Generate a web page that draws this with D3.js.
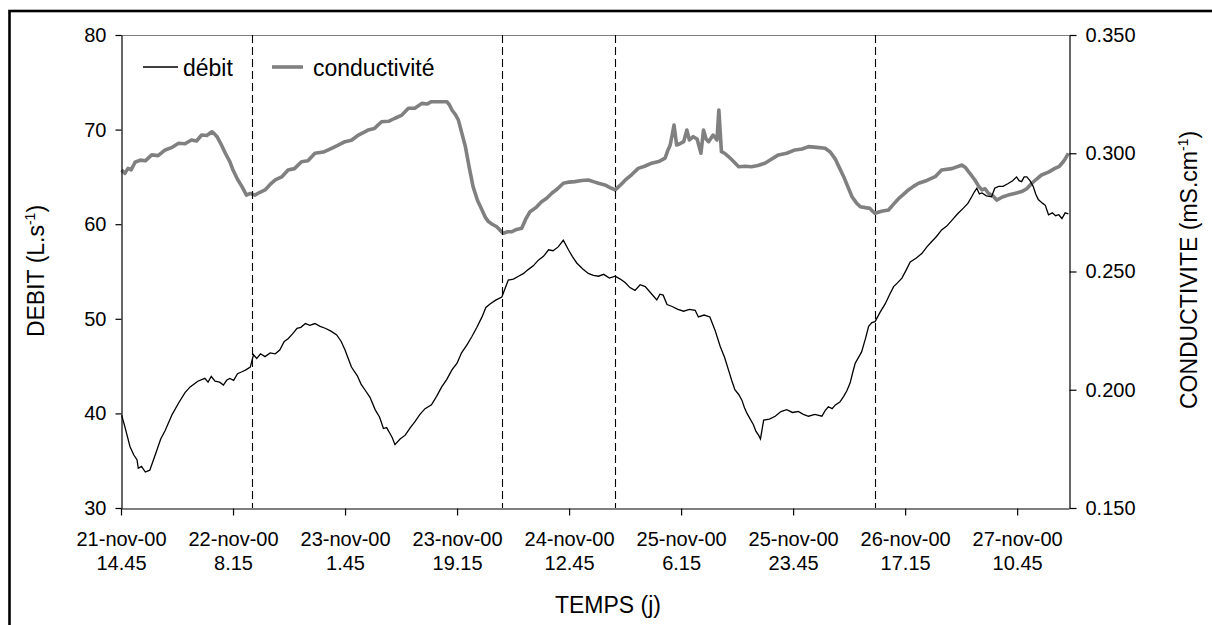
<!DOCTYPE html>
<html>
<head>
<meta charset="utf-8">
<script src="https://cdn.jsdelivr.net/npm/d3@7/dist/d3.min.js"></script>
<style>
  body { margin: 0; background: #fff; }
  svg { font-family: Arial, 'Liberation Sans', sans-serif; }
</style>
</head>
<body>
<div id="chart"></div>
<script>
// [heures depuis le 21-nov-00 14.45, valeur]
const debit = [
  [0.1, 39.8], [0.6, 38.6], [1.4, 36.5], [2.0, 35.6], [2.5, 35.1], [2.7, 34.2], [3.2, 34.4],
  [3.8, 33.8], [4.5, 34.0], [5.6, 36.1], [6.2, 37.3], [6.9, 38.2], [8.0, 39.9], [9.0, 41.1],
  [10.0, 42.2], [10.8, 42.8], [12.0, 43.4], [13.1, 43.7], [13.6, 43.3], [14.1, 43.9], [14.7, 43.4],
  [15.4, 43.3], [16.0, 43.0], [16.5, 43.5], [17.0, 43.7], [17.6, 43.5], [18.2, 44.2], [18.9, 44.4],
  [19.5, 44.6], [20.2, 44.9], [20.7, 46.2], [21.2, 45.8], [21.8, 46.3], [22.5, 46.0], [23.3, 46.4],
  [24.1, 46.3], [24.8, 46.7], [25.5, 47.6], [26.1, 47.9], [26.8, 48.4], [27.5, 49.0], [28.1, 49.1],
  [28.8, 49.5], [29.5, 49.3], [30.3, 49.5], [31.1, 49.2], [31.9, 49.0], [32.8, 48.7], [33.7, 48.3],
  [34.4, 47.6], [35.0, 46.7], [35.5, 45.8], [36.0, 44.9], [36.9, 44.0], [37.5, 43.1], [38.1, 42.5],
  [38.9, 41.7], [39.7, 40.4], [40.4, 39.6], [41.0, 38.4], [41.5, 38.5], [42.0, 37.9], [42.4, 37.4],
  [42.8, 36.7], [43.6, 37.3], [44.4, 37.7], [45.2, 38.5], [45.9, 39.1], [46.7, 39.9], [47.5, 40.5],
  [48.5, 40.9], [49.3, 41.8], [50.1, 42.8], [50.9, 43.6], [51.7, 44.6], [52.5, 45.3], [53.2, 46.4],
  [54.0, 47.2], [54.8, 48.1], [55.6, 49.1], [56.4, 50.2], [57.0, 51.2], [57.7, 51.6], [58.6, 52.0],
  [59.5, 52.3], [60.0, 53.2], [60.5, 54.1], [61.3, 54.2], [62.1, 54.5], [62.9, 54.8], [63.6, 55.2],
  [64.4, 55.6], [65.2, 56.2], [66.0, 56.6], [66.8, 57.3], [67.5, 57.2], [68.3, 57.6], [69.1, 58.3],
  [69.9, 57.3], [70.5, 56.6], [71.2, 55.9], [72.1, 55.3], [73.0, 54.8], [73.8, 54.6], [74.6, 54.5],
  [75.4, 54.7], [76.3, 54.3], [77.2, 54.5], [78.0, 54.2], [78.8, 53.8], [79.5, 53.3], [80.3, 53.0],
  [81.1, 53.6], [81.9, 53.4], [82.8, 52.7], [83.7, 52.0], [84.2, 52.6], [84.7, 52.5], [85.3, 51.5],
  [86.1, 51.3], [87.0, 51.0], [87.9, 50.8], [88.8, 51.0], [89.7, 50.9], [90.2, 50.2], [91.1, 50.4],
  [92.0, 50.2], [92.8, 48.8], [93.6, 47.1], [94.3, 45.9], [94.9, 44.6], [95.4, 43.5], [95.9, 42.5],
  [96.5, 42.0], [97.0, 41.4], [97.4, 40.6], [97.8, 40.0], [98.3, 39.4], [98.8, 38.8], [99.2, 38.1],
  [99.6, 37.7], [99.9, 37.3], [100.4, 39.3], [101.3, 39.4], [102.2, 39.7], [103.1, 40.2], [104.0, 40.4],
  [104.9, 40.1], [105.8, 40.2], [106.6, 39.9], [107.4, 39.7], [108.4, 39.9], [109.5, 39.7], [110.0, 40.3],
  [110.5, 40.7], [111.1, 40.5], [111.6, 40.9], [112.3, 41.2], [112.9, 41.8], [113.4, 42.4], [113.9, 43.2],
  [114.3, 44.3], [114.7, 45.3], [115.2, 45.9], [115.7, 46.5], [116.3, 47.9], [116.8, 49.2], [117.3, 49.6],
  [117.8, 49.7], [118.6, 50.7], [119.4, 51.6], [120.1, 52.6], [120.7, 53.4], [121.3, 53.8], [122.0, 54.3],
  [122.7, 55.2], [123.3, 56.0], [124.2, 56.4], [125.1, 56.9], [125.9, 57.6], [126.7, 58.2], [127.4, 58.7],
  [128.2, 59.4], [129.0, 59.8], [129.8, 60.4], [130.7, 61.1], [131.6, 61.7], [132.3, 62.2], [132.9, 62.9],
  [133.3, 63.4], [133.7, 63.8], [134.1, 63.2], [134.5, 63.3], [135.2, 63.0], [136.0, 62.9], [136.5, 63.8],
  [137.1, 64.0], [137.8, 64.0], [138.6, 64.3], [139.3, 64.6], [139.9, 65.0], [140.3, 64.6], [140.7, 64.5],
  [141.1, 65.0], [141.5, 65.0], [142.0, 64.6], [142.5, 64.0], [142.9, 63.2], [143.3, 62.6], [144.0, 62.2],
  [144.4, 62.0], [144.9, 61.0], [145.5, 61.2], [146.0, 60.9], [146.5, 61.0], [147.0, 60.6], [147.5, 61.2],
  [148.0, 61.1]
];

const conductivite = [
  [0.1, 0.2929], [0.6, 0.2915], [1.1, 0.2936], [1.6, 0.2930], [2.2, 0.2962], [3.0, 0.2971], [3.8, 0.2968],
  [4.8, 0.2993], [5.8, 0.2990], [6.9, 0.3014], [8.0, 0.3025], [9.0, 0.3042], [10.0, 0.3040], [11.0, 0.3056],
  [11.8, 0.3052], [12.6, 0.3077], [13.4, 0.3075], [14.2, 0.3091], [14.6, 0.3082], [15.0, 0.3070],
  [15.6, 0.3040], [16.3, 0.3000], [17.0, 0.2965], [17.5, 0.2929], [18.2, 0.2890], [18.9, 0.2859],
  [19.6, 0.2823], [20.2, 0.2830], [20.9, 0.2823], [21.7, 0.2835], [22.5, 0.2845], [23.3, 0.2868],
  [24.1, 0.2887], [25.1, 0.2900], [26.1, 0.2929], [27.1, 0.2935], [28.2, 0.2964], [29.2, 0.2968],
  [30.3, 0.3000], [31.6, 0.3005], [32.9, 0.3021], [34.0, 0.3035], [35.0, 0.3049], [36.0, 0.3055],
  [37.1, 0.3077], [38.6, 0.3098], [39.6, 0.3105], [40.7, 0.3133], [41.8, 0.3135], [42.8, 0.3148],
  [43.8, 0.3160], [44.9, 0.3190], [45.9, 0.3190], [47.0, 0.3211], [47.8, 0.3208], [48.5, 0.3218],
  [49.7, 0.3218], [50.9, 0.3218], [51.3, 0.3205], [51.7, 0.3183], [52.2, 0.3165], [52.7, 0.3141],
  [53.2, 0.3090], [53.8, 0.3028], [54.4, 0.2940], [55.0, 0.2859], [55.7, 0.2800], [56.4, 0.2760],
  [56.9, 0.2730], [57.4, 0.2711], [58.0, 0.2700], [58.7, 0.2689], [59.2, 0.2675], [59.7, 0.2662],
  [60.4, 0.2668], [61.0, 0.2668], [61.8, 0.2678], [62.6, 0.2683], [63.2, 0.2720], [63.9, 0.2753],
  [64.8, 0.2770], [65.7, 0.2795], [66.5, 0.2810], [67.3, 0.2831], [68.2, 0.2850], [69.1, 0.2873],
  [70.0, 0.2878], [70.9, 0.2880], [72.0, 0.2885], [73.0, 0.2887], [73.8, 0.2880], [74.6, 0.2873],
  [75.6, 0.2866], [76.4, 0.2855], [77.2, 0.2845], [78.0, 0.2865], [78.8, 0.2887], [79.8, 0.2910],
  [80.8, 0.2936], [81.8, 0.2945], [82.9, 0.2958], [84.0, 0.2965], [85.0, 0.2979], [85.4, 0.3010],
  [85.8, 0.3035], [86.4, 0.3119], [86.8, 0.3035], [87.3, 0.3040], [87.9, 0.3049], [88.4, 0.3098],
  [88.8, 0.3056], [89.4, 0.3070], [90.0, 0.3060], [90.6, 0.3000], [91.0, 0.3098], [91.4, 0.3060],
  [91.8, 0.3049], [92.5, 0.3077], [93.1, 0.3056], [93.4, 0.3183], [93.8, 0.3007], [94.3, 0.3000],
  [94.9, 0.2986], [95.7, 0.2965], [96.5, 0.2943], [97.5, 0.2945], [98.5, 0.2943], [99.5, 0.2948],
  [100.6, 0.2958], [101.6, 0.2975], [102.7, 0.2993], [104.0, 0.3000], [105.3, 0.3014], [106.4, 0.3018],
  [107.4, 0.3028], [108.7, 0.3025], [110.0, 0.3021], [110.8, 0.3005], [111.6, 0.2975], [112.3, 0.2935],
  [112.9, 0.2901], [113.6, 0.2855], [114.2, 0.2816], [114.9, 0.2790], [115.5, 0.2774], [116.3, 0.2770],
  [117.0, 0.2767], [117.4, 0.2755], [117.8, 0.2746], [118.8, 0.2755], [119.9, 0.2760], [120.7, 0.2785],
  [121.5, 0.2809], [122.2, 0.2825], [123.0, 0.2845], [123.8, 0.2860], [124.6, 0.2873], [125.9, 0.2885],
  [127.2, 0.2901], [128.2, 0.2929], [129.8, 0.2935], [131.4, 0.2950], [131.9, 0.2940], [132.4, 0.2922],
  [132.9, 0.2905], [133.4, 0.2887], [134.0, 0.2860], [134.5, 0.2845], [135.0, 0.2850], [135.5, 0.2831],
  [136.2, 0.2820], [136.8, 0.2802], [137.7, 0.2815], [138.6, 0.2823], [139.6, 0.2830], [140.7, 0.2838],
  [141.5, 0.2850], [142.3, 0.2873], [143.0, 0.2890], [143.8, 0.2908], [144.9, 0.2920], [145.9, 0.2936],
  [146.6, 0.2945], [147.2, 0.2964], [147.6, 0.2980], [148.0, 0.3000]
];

// traits verticaux en pointillés (heures)
const repereHeures = [20.5, 59.5, 77.2, 117.8];

const debitTicks = [30, 40, 50, 60, 70, 80];
const condTicks = [0.15, 0.2, 0.25, 0.3, 0.35];
const legendes = ['débit', 'conductivité'];

const debut = new Date(2000, 10, 21, 14, 45);
const dureeHeures = 148.1;
const pasHeures = 17.5;

const W = 1212, H = 625;
const box = { left: 121, right: 1069, top: 35, bottom: 508 };

const heure = (h) => new Date(+debut + h * 3600e3);

const locale = d3.timeFormatLocale({
  dateTime: '%x %X', date: '%d/%m/%Y', time: '%H:%M:%S',
  periods: ['', ''],
  days: ['dimanche', 'lundi', 'mardi', 'mercredi', 'jeudi', 'vendredi', 'samedi'],
  shortDays: ['dim', 'lun', 'mar', 'mer', 'jeu', 'ven', 'sam'],
  months: ['janvier', 'février', 'mars', 'avril', 'mai', 'juin', 'juillet', 'août', 'septembre', 'octobre', 'novembre', 'décembre'],
  shortMonths: ['janv', 'févr', 'mars', 'avr', 'mai', 'juin', 'juil', 'août', 'sept', 'oct', 'nov', 'déc'],
});
const fmtJour = locale.format('%-d-%b-%y');
const fmtHeure = locale.format('%-H.%M');

const svg = d3
  .select('#chart')
  .append('svg')
  .attr('width', W)
  .attr('height', H);

// cadre extérieur
svg
  .append('rect')
  .attr('x', 9.5)
  .attr('y', 11)
  .attr('width', W + 20)
  .attr('height', H + 20)
  .attr('fill', 'none')
  .attr('stroke', '#000')
  .attr('stroke-width', 2.6);

const x = d3
  .scaleTime()
  .domain([debut, heure(dureeHeures)])
  .range([box.left, box.right]);

const yDebit = d3.scaleLinear().domain([30, 80]).range([box.bottom, box.top]);
const yCond = d3.scaleLinear().domain([0.15, 0.35]).range([box.bottom, box.top]);

// bord haut de la zone de tracé
svg
  .append('line')
  .attr('x1', box.left)
  .attr('x2', box.right)
  .attr('y1', box.top + 0.5)
  .attr('y2', box.top + 0.5)
  .attr('stroke', '#808080');

const lineDebit = d3
  .line()
  .x((d) => x(heure(d[0])))
  .y((d) => yDebit(d[1]));

const lineCond = d3
  .line()
  .x((d) => x(heure(d[0])))
  .y((d) => yCond(d[1]));

svg
  .append('path')
  .datum(conductivite)
  .attr('fill', 'none')
  .attr('stroke', '#808080')
  .attr('stroke-width', 3.6)
  .attr('stroke-linejoin', 'round')
  .attr('d', lineCond);

svg
  .append('path')
  .datum(debit)
  .attr('fill', 'none')
  .attr('stroke', '#000')
  .attr('stroke-width', 1.3)
  .attr('d', lineDebit);

svg
  .append('g')
  .selectAll('line')
  .data(repereHeures)
  .enter()
  .append('line')
  .attr('x1', (d) => Math.round(x(heure(d))) + 0.5)
  .attr('x2', (d) => Math.round(x(heure(d))) + 0.5)
  .attr('y1', box.top)
  .attr('y2', box.bottom)
  .attr('stroke', '#000')
  .attr('stroke-width', 1.1)
  .attr('stroke-dasharray', '8,4');

// axes
const styleAxis = (g, size) => {
  g.attr('font-size', size).attr('font-family', 'Arial, Liberation Sans, sans-serif');
  g.selectAll('path, line').attr('stroke', '#000').attr('stroke-width', 1.2);
  g.selectAll('text').attr('fill', '#000');
};

svg
  .append('g')
  .attr('transform', `translate(${box.left + 0.5},0)`)
  .call(
    d3.axisLeft(yDebit).tickValues(debitTicks).tickSize(6).tickSizeOuter(0).tickPadding(9)
  )
  .call(styleAxis, 20);

svg
  .append('g')
  .attr('transform', `translate(${box.right + 0.5},0)`)
  .call(
    d3
      .axisRight(yCond)
      .tickValues(condTicks)
      .tickSize(7)
      .tickSizeOuter(0)
      .tickPadding(9)
      .tickFormat(d3.format('.3f'))
  )
  .call(styleAxis, 20);

const xTicks = d3.range(0, dureeHeures, pasHeures).map(heure);

const xAxis = svg
  .append('g')
  .attr('transform', `translate(0,${box.bottom + 0.5})`)
  .call(d3.axisBottom(x).tickValues(xTicks).tickSize(7).tickSizeOuter(0))
  .call(styleAxis, 20);

xAxis.selectAll('.tick text').each(function (d) {
  const t = d3.select(this).text(null).attr('y', null).attr('dy', null);
  t.append('tspan').attr('x', 0).attr('y', 37).text(fmtJour(d));
  t.append('tspan').attr('x', 0).attr('y', 61.5).text(fmtHeure(d));
});

// titres d'axes
svg
  .append('text')
  .attr('x', 608)
  .attr('y', 613)
  .attr('text-anchor', 'middle')
  .attr('font-size', 23)
  .text('TEMPS (j)');

const titreVertical = (cx, cy, label) => {
  const t = svg
    .append('text')
    .attr('transform', `translate(${cx},${cy}) rotate(-90)`)
    .attr('text-anchor', 'middle')
    .attr('font-size', 23);
  t.append('tspan').text(label);
  t.append('tspan').attr('font-size', 14).attr('dy', -9).text('-1');
  t.append('tspan').attr('dy', 9).text(')');
};

titreVertical(44, 271, 'DEBIT (L.s');
titreVertical(1197, 270, 'CONDUCTIVITE (mS.cm');

// légende
const leg = svg
  .append('g')
  .selectAll('g')
  .data(legendes)
  .enter()
  .append('g')
  .attr('transform', (d, i) => `translate(${i ? 272 : 143},67)`);

leg
  .append('line')
  .attr('x1', 0)
  .attr('x2', (d, i) => (i ? 31 : 35))
  .attr('stroke', (d, i) => (i ? '#808080' : '#000'))
  .attr('stroke-width', (d, i) => (i ? 3.6 : 1.3));

leg
  .append('text')
  .attr('x', (d, i) => (i ? 41 : 40))
  .attr('y', 9)
  .attr('font-size', 23)
  .text((d) => d);
</script>
</body>
</html>
